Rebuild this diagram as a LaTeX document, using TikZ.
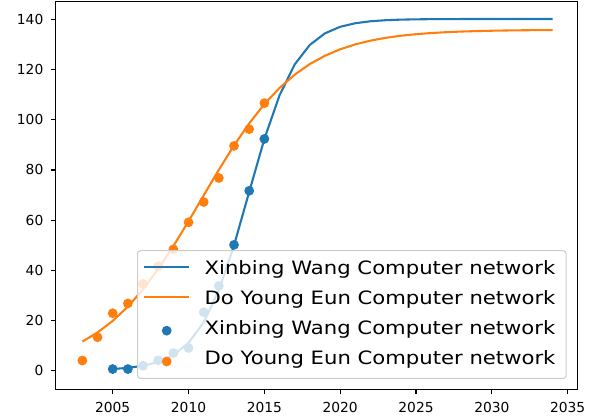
\documentclass[tikz,border=0pt]{standalone}
\usepackage{fontspec}
\setmainfont{DejaVu Sans}
\newfontfamily\legendfont[FakeStretch=1.15]{DejaVu Sans}
\definecolor{cblue}{HTML}{1F77B4}
\definecolor{corange}{HTML}{FF7F0E}
\definecolor{legedge}{gray}{0.8}
\begin{document}
\begin{tikzpicture}[x=1pt,y=1pt,
  ticklabel/.style={font=\fontsize{13.8}{16}\selectfont, inner sep=0pt, text=black},
  legtext/.style={font=\legendfont\fontsize{18.4}{21}\selectfont, inner sep=0pt, text=black},
  fitline/.style={line width=2.08pt, line join=round},
  tickmark/.style={line width=1.1pt, black},
  dot/.style={radius=4.9pt}]
\useasboundingbox (0,0) rectangle (594,417);
\fill[white] (0,0) rectangle (594,417);

% data axes: x = year - 2000, y = count
\begin{scope}[shift={(36.87,46.7)}, x=15.166pt, y=2.504pt]
  % observed counts
  \foreach \t/\v in {5/0.5,6/0.5,7/1.8,8/4.0,9/6.9,10/8.9,11/23.2,12/33.7,13/50.1,14/71.7,15/92.4}
    \fill[cblue] (\t,\v) circle[dot];
  \foreach \t/\v in {3/3.9,4/13.2,5/22.8,6/26.7,7/34.5,8/41.6,9/48.3,10/59.1,11/67.2,12/76.8,13/89.6,14/96.3,15/106.7}
    \fill[corange] (\t,\v) circle[dot];
  % logistic fits
  \draw[fitline, cblue] plot[domain=5:34, samples=30] (\x, {140.3/(1+exp(-0.625*(\x-13.95)))});
  \draw[fitline, corange] plot[domain=3:34, samples=32] (\x, {136/(1+exp(-0.305*(\x-10.82)))});
  % frame
  \draw[line width=1.1pt] (1.228,-7.59) rectangle (35.66,147.2);
  % x ticks
  \foreach \t in {5,10,...,35} {
    \draw[tickmark] (\t,-7.59) -- ++(0pt,-4.9pt);
    \node[ticklabel, anchor=north, yshift=-12.4pt] (xt\t) at (\t,-7.59) {\the\numexpr2000+\t\relax};
  }
  % y ticks
  \foreach \v in {0,20,...,140} {
    \draw[tickmark] (1.228,\v) -- ++(-4.9pt,0pt);
    \node[ticklabel, anchor=east, xshift=-12pt] (yt\v) at (1.228,\v) {\v};
  }
\end{scope}

% legend
\draw[legedge, line width=1pt, fill=white, fill opacity=0.8, rounded corners=3pt]
  (137.5,38.5) rectangle (566,166.3);
\coordinate (h1a) at (144,150.3); \coordinate (h1b) at (189,150.3);
\coordinate (h2a) at (144,120.2); \coordinate (h2b) at (189,120.2);
\draw[fitline, cblue] (h1a) -- (h1b);
\draw[fitline, corange] (h2a) -- (h2b);
\fill[cblue] (166.7,86.3) circle[dot];
\fill[corange] (166.7,55.5) circle[dot];
\node[legtext, anchor=base west] (lg1) at (204.5,142.7) {Xinbing Wang Computer network};
\node[legtext, anchor=base west] (lg2) at (204.5,112.6) {Do Young Eun Computer network};
\node[legtext, anchor=base west] (lg3) at (204.5,82.5) {Xinbing Wang Computer network};
\node[legtext, anchor=base west] (lg4) at (204.5,52.4) {Do Young Eun Computer network};
\end{tikzpicture}
\end{document}
